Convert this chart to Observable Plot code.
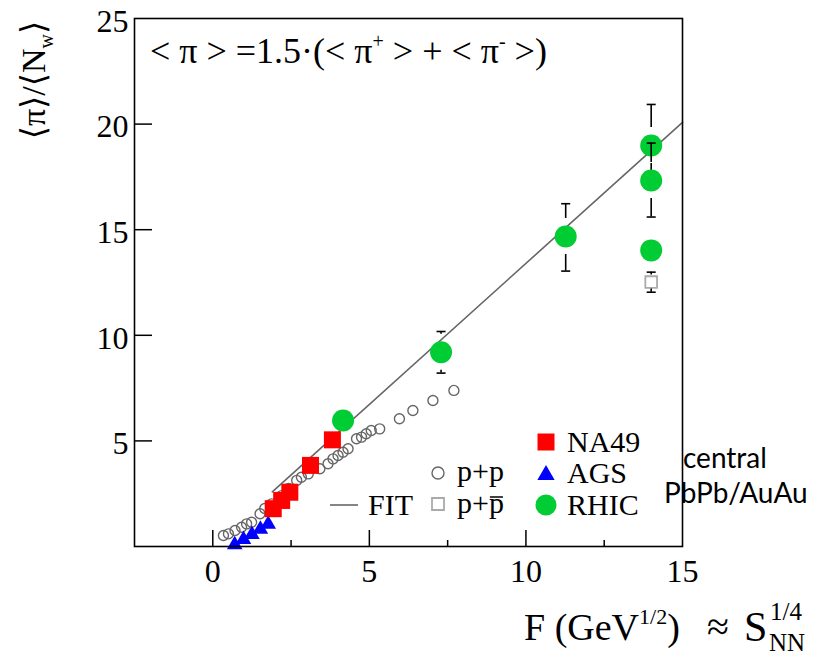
<!DOCTYPE html>
<html><head><meta charset="utf-8">
<script src="https://cdn.jsdelivr.net/npm/d3@7"></script>
<script src="https://cdn.jsdelivr.net/npm/@observablehq/plot@0.6"></script>
<style>
html,body{margin:0;padding:0;background:#fff;}
#chart{position:relative;width:813px;height:655px;}
</style></head><body><div id="chart"></div>
<script>
// ---- data ----
const ppF = [0.34,0.50,0.71,0.92,1.08,1.24,1.51,1.66,1.88,2.20,2.42,2.68,2.83,3.05,3.42,3.68,3.84,4.00,4.16,4.32,4.59,4.75,4.90,5.06,5.33,5.96,6.39,7.03,7.70];
const ppY = [0.52,0.60,0.76,0.91,1.07,1.15,1.55,1.80,2.02,2.41,2.75,3.13,3.28,3.44,3.68,3.92,4.15,4.31,4.46,4.63,5.10,5.18,5.34,5.49,5.57,6.05,6.44,6.91,7.39];

const na49F = [1.93,2.20,2.46,3.12,3.82];
const na49Y = [1.79,2.18,2.57,3.84,5.05];

const agsF = [0.70,0.98,1.25,1.52,1.77];
const agsY = [0.08,0.33,0.57,0.82,1.05];

const rhicF  = [4.16,7.29,11.27,14.0,14.0,14.0];
const rhicY  = [5.97,9.20,14.68,18.99,17.33,14.02];
const rhicLo = [null,8.21,13.04,17.07,15.60,null];
const rhicHi = [null,10.18,16.23,20.93,19.10,null];

const ppbarF  = [14.0];
const ppbarY  = [12.52];
const ppbarLo = [12.04];
const ppbarHi = [12.99];

const fitF = [1.9,15.0];
const fitY = [2.59,20.08];

const xTickLabels = [0,5,10,15];
const xMajorTicks = [0,5,10];
const xMinorTicks = [2.5,7.5,12.5];
const yTickLabels = [5,10,15,20,25];
const yMajorTicks = [5,10,15,20];

// ---- build tables ----
const pp = ppF.map((f,i)=>({f, y: ppY[i]}));
const na49 = na49F.map((f,i)=>({f, y: na49Y[i]}));
const ags = agsF.map((f,i)=>({f, y: agsY[i]}));
const rhic = rhicF.map((f,i)=>({f, y: rhicY[i], lo: rhicLo[i], hi: rhicHi[i]}));
const ppbar = ppbarF.map((f,i)=>({f, y: ppbarY[i], lo: ppbarLo[i], hi: ppbarHi[i]}));
const fit = fitF.map((f,i)=>({f, y: fitY[i]}));

const serif = "'Liberation Serif','Times New Roman','DejaVu Serif',serif";
const green = "#00cc33";
const cap = {draw(ctx){ ctx.moveTo(-4.5,0); ctx.lineTo(4.5,0); }};

function errMarks(arr, gap){
  const up = arr.filter(d=>d.hi!=null), dn = arr.filter(d=>d.lo!=null);
  return [
    Plot.ruleX(up, {x:"f", y1:"hi", y2:"y", insetBottom:gap, stroke:"black", strokeWidth:1.6}),
    Plot.ruleX(dn, {x:"f", y1:"y", y2:"lo", insetTop:gap, stroke:"black", strokeWidth:1.6}),
    Plot.dot(up, {x:"f", y:"hi", symbol:cap, stroke:"black", strokeWidth:1.6}),
    Plot.dot(dn, {x:"f", y:"lo", symbol:cap, stroke:"black", strokeWidth:1.6})
  ];
}

const W = 813, H = 655, mL = 134, mR = 131, mT = 18, mB = 109;
const pw = W - mL - mR, ph = H - mT - mB;

const chart = Plot.plot({
  width: W, height: H,
  marginLeft: mL, marginRight: mR, marginTop: mT, marginBottom: mB,
  style: {background: "white", color: "black", overflow: "visible"},
  x: {domain: [-2.5, 15]},
  y: {domain: [0, 25]},
  marks: [
    Plot.ruleX(xMajorTicks, {x: d=>d, insetTop: ph - 16, stroke: "black", strokeWidth: 1.5}),
    Plot.ruleX(xMinorTicks, {x: d=>d, insetTop: ph - 6, stroke: "black", strokeWidth: 1.5}),
    Plot.ruleY(yMajorTicks, {y: d=>d, insetRight: pw - 18, stroke: "black", strokeWidth: 1.5}),
    Plot.axisX(xTickLabels, {tickSize: 0, tickPadding: 13, fontSize: 32, fontFamily: serif, label: null, tickFormat: d=>String(d)}),
    Plot.axisY(yTickLabels, {tickSize: 0, tickPadding: 6, fontSize: 32, fontFamily: serif, label: null, dy: 3, tickFormat: d=>String(d)}),
    Plot.line(fit, {x:"f", y:"y", stroke:"#666", strokeWidth:1.6}),
    Plot.dot(pp, {x:"f", y:"y", r:5, stroke:"#666", strokeWidth:1.4, fill:"none"}),
    Plot.dot(ppbar, {x:"f", y:"y", symbol:"square", r:6.6, stroke:"#aaa", strokeWidth:1.8, fill:"none"}),
    ...errMarks(ppbar, 7),
    Plot.dot(ags, {x:"f", y:"y", symbol:"triangle", r:5.8, fill:"blue"}),
    Plot.dot(na49, {x:"f", y:"y", symbol:"square", r:9.6, fill:"red"}),
    ...rhic.flatMap(d => [
      Plot.dot([d], {x:"f", y:"y", r:11, fill:green}),
      ...errMarks([d], 18)
    ]),
    Plot.frame({stroke:"black", strokeWidth:1.6})
  ]
});

document.getElementById("chart").appendChild(chart);
const svg = d3.select(chart);
const ov = svg.append("g").attr("text-anchor","start").attr("fill","black").attr("font-family", serif);

// formula
const fml = ov.append("text").attr("x", 150).attr("y", 63).attr("font-size", 36);
fml.append("tspan").text("< π > =1.5·(< π");
fml.append("tspan").attr("font-size", 20).attr("dy", -15).text("+");
fml.append("tspan").attr("dy", 15).text(" > + < π");
fml.append("tspan").attr("font-size", 20).attr("dy", -15).text("-");
fml.append("tspan").attr("dy", 15).text(" >)");

// y label
const yl = ov.append("text").attr("transform","translate(45,80) rotate(-90)")
  .attr("text-anchor","middle").attr("font-size", 34);
yl.append("tspan").text("⟨π⟩/⟨N");
yl.append("tspan").attr("font-size", 20).attr("dy", 8).text("w");
yl.append("tspan").attr("dy", -8).text("⟩");

// x title
const xt = ov.append("text").attr("x", 524).attr("y", 640).attr("font-size", 38);
xt.append("tspan").text("F (GeV");
xt.append("tspan").attr("font-size", 22).attr("dy", -16).text("1/2");
xt.append("tspan").attr("dy", 16).text(")");
ov.append("text").attr("x", 707).attr("y", 640).attr("font-size", 40).text("≈");
ov.append("text").attr("x", 744).attr("y", 641).attr("font-size", 42).text("S");
ov.append("text").attr("x", 770).attr("y", 620).attr("font-size", 25).text("1/4");
ov.append("text").attr("x", 769).attr("y", 651).attr("font-size", 25).text("NN");

// central PbPb/AuAu
const sans = "Lato, 'Open Sans', sans-serif";
ov.append("text").attr("x", 683).attr("y", 468).attr("font-family", sans).attr("font-size", 28).text("central");
ov.append("text").attr("x", 664).attr("y", 503).attr("font-family", sans).attr("font-size", 28).text("PbPb/AuAu");

// legend
const lg = ov.append("g").attr("font-size", 30);
const sym = (type, size) => d3.symbol().type(type).size(size)();
lg.append("path").attr("d", sym(d3.symbolSquare, 17*17)).attr("transform","translate(546,442)").attr("fill","red");
lg.append("text").attr("x", 567).attr("y", 452).text("NA49");
lg.append("path").attr("d", sym(d3.symbolTriangle, 130)).attr("transform","translate(546,475)").attr("fill","blue");
lg.append("text").attr("x", 567).attr("y", 483).text("AGS");
lg.append("path").attr("d", sym(d3.symbolCircle, Math.PI*10.5*10.5)).attr("transform","translate(546,505)").attr("fill",green);
lg.append("text").attr("x", 567).attr("y", 515).text("RHIC");
lg.append("path").attr("d", sym(d3.symbolCircle, Math.PI*36)).attr("transform","translate(438,473)").attr("fill","none").attr("stroke","#666").attr("stroke-width",1.4);
lg.append("text").attr("x", 457).attr("y", 481).text("p+p");
lg.append("path").attr("d", sym(d3.symbolSquare, 144)).attr("transform","translate(438,504)").attr("fill","none").attr("stroke","#aaa").attr("stroke-width",1.8);
const pb = lg.append("text").attr("x", 457).attr("y", 513).text("p+p");
// overline over the last "p"
const pn = pb.node();
const sx = pn.getStartPositionOfChar(2).x, sw = pn.getSubStringLength(2, 1);
lg.append("line").attr("x1", sx + 1).attr("x2", sx + sw - 1).attr("y1", 497).attr("y2", 497)
  .attr("stroke", "black").attr("stroke-width", 1.5);
lg.append("line").attr("x1",330).attr("x2",358).attr("y1",505).attr("y2",505).attr("stroke","#666").attr("stroke-width",1.6);
lg.append("text").attr("x", 368).attr("y", 515).text("FIT");
</script></body></html>
